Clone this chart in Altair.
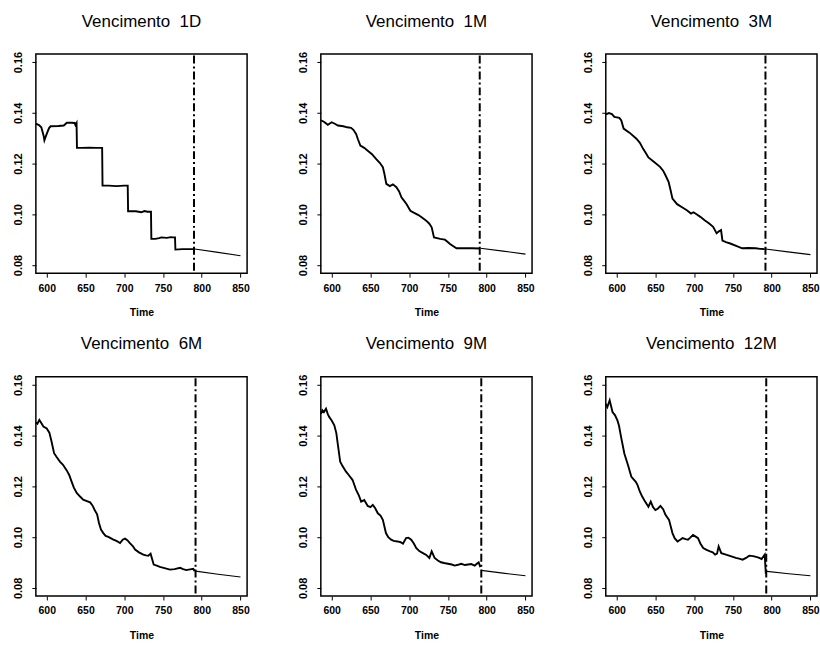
import altair as alt
import pandas as pd

# ---------------- data ----------------
maturities = ["1D", "1M", "3M", "6M", "9M", "12M"]

t_1d = [586, 590, 593, 596, 597, 600, 603, 605, 615, 622, 626, 632, 636, 637, 638.5, 639,
        645, 655, 665, 671.5, 672, 680, 690, 700, 704.5, 705, 715, 722, 726, 730, 734.5,
        735, 740, 745, 748, 755, 760, 763, 765.5, 766, 775, 785, 791]
v_1d = [0.1357, 0.1352, 0.1343, 0.1310, 0.1292, 0.1317, 0.1340, 0.1347, 0.1348, 0.1350,
        0.1361, 0.1361, 0.1360, 0.1352, 0.1360, 0.1262, 0.1262, 0.1263, 0.1262, 0.1262,
        0.1113, 0.1113, 0.1111, 0.1113, 0.1113, 0.1012, 0.1012, 0.1008, 0.1013, 0.1010,
        0.1010, 0.0903, 0.0903, 0.0906, 0.0909, 0.0907, 0.0910, 0.0909, 0.0909, 0.0861,
        0.0863, 0.0863, 0.0863]

t_1m = [586, 590, 595, 600, 604, 608, 615, 620, 625, 628, 631.5, 634, 637, 642, 646.5,
        652, 657.5, 662, 666, 668, 670.5, 675, 679, 683.5, 687, 690, 693, 696.5, 701.5,
        707, 712, 716, 722, 726, 729, 732, 736, 740, 746, 749, 752.7, 757, 761, 770,
        781, 791]
v_1m = [0.1370, 0.1365, 0.1353, 0.1363, 0.1357, 0.1350, 0.1347, 0.1343, 0.1341, 0.1333,
        0.1317, 0.1295, 0.1271, 0.1262, 0.1251, 0.1237, 0.1218, 0.1203, 0.1186, 0.1160,
        0.1120, 0.1111, 0.1118, 0.1107, 0.1090, 0.1067, 0.1055, 0.1041, 0.1014, 0.1005,
        0.0997, 0.0988, 0.0975, 0.0963, 0.0949, 0.0909, 0.0906, 0.0903, 0.0900, 0.0893,
        0.0883, 0.0874, 0.0866, 0.0866, 0.0866, 0.0865]

t_3m = [586, 590, 594, 597, 603.5, 606, 609, 617, 625.5, 630, 634, 638, 641, 648, 656,
        660, 663, 667, 670, 672, 678, 687, 691, 696, 699, 702.6, 708, 713.5, 719, 724.5,
        729, 731.5, 734.7, 736.5, 741, 746.6, 755, 762, 770, 779.6, 785, 791]
v_3m = [0.1394, 0.1399, 0.1395, 0.1384, 0.1380, 0.1370, 0.1338, 0.1321, 0.1298, 0.1282,
        0.1259, 0.1240, 0.1224, 0.1207, 0.1187, 0.1172, 0.1154, 0.1128, 0.1090, 0.1062,
        0.1040, 0.1023, 0.1015, 0.1003, 0.1008, 0.1001, 0.0990, 0.0977, 0.0965, 0.0951,
        0.0925, 0.0932, 0.0938, 0.0896, 0.0890, 0.0885, 0.0875, 0.0866, 0.0867, 0.0866,
        0.0864, 0.0863]

t_6m = [586, 588, 590.5, 593, 595.7, 600, 603.4, 606, 609.5, 613, 617, 621, 625.8, 629,
        632, 635, 638.7, 643, 647, 651, 656, 659, 662, 665, 667.4, 670, 673, 676, 679.5,
        683, 686, 690, 694.6, 698, 701, 704, 707, 711, 714, 719, 724.6, 728, 731, 734,
        738, 742, 746, 752, 759, 765, 772, 776, 780, 785, 789, 791]
v_6m = [0.1452, 0.1447, 0.1462, 0.1450, 0.1436, 0.1428, 0.1412, 0.1380, 0.1331, 0.1315,
        0.1298, 0.1285, 0.1263, 0.1245, 0.1220, 0.1195, 0.1174, 0.1160, 0.1148, 0.1143,
        0.1137, 0.1125, 0.1106, 0.1090, 0.1056, 0.1030, 0.1016, 0.1005, 0.1001, 0.0995,
        0.0990, 0.0985, 0.0977, 0.0990, 0.0994, 0.0988, 0.0977, 0.0965, 0.0951, 0.0940,
        0.0931, 0.0928, 0.0927, 0.0935, 0.0892, 0.0888, 0.0883, 0.0878, 0.0872, 0.0874,
        0.0879, 0.0874, 0.0870, 0.0873, 0.0875, 0.0866]

t_9m = [586, 588, 590, 592.7, 595, 597, 600, 603.4, 606, 607.8, 611, 614, 618.5, 622,
        627, 631.5, 635, 638, 642, 646.5, 650, 653, 656, 659.5, 663, 666, 670, 673,
        676.7, 680, 685, 689, 692, 696, 699, 702.6, 706, 709, 713, 717.7, 722, 726, 729,
        732.8, 737, 741, 745, 750, 755, 758.6, 763, 767, 772, 776, 780, 784.5, 789.6,
        791.8]
v_9m = [0.1486, 0.1500, 0.1493, 0.1506, 0.1485, 0.1473, 0.1460, 0.1441, 0.1410, 0.1369,
        0.1297, 0.1280, 0.1258, 0.1245, 0.1225, 0.1186, 0.1165, 0.1140, 0.1146, 0.1123,
        0.1118, 0.1127, 0.1115, 0.1094, 0.1085, 0.1068, 0.1016, 0.1000, 0.0990, 0.0985,
        0.0983, 0.0980, 0.0974, 0.0996, 0.0998, 0.0990, 0.0975, 0.0957, 0.0945, 0.0937,
        0.0930, 0.0918, 0.0944, 0.0918, 0.0908, 0.0901, 0.0898, 0.0895, 0.0892, 0.0888,
        0.0891, 0.0895, 0.0890, 0.0892, 0.0894, 0.0888, 0.0901, 0.0882]

t_12m = [586, 588, 591, 594.7, 598, 601, 603, 605.7, 610, 614.6, 619, 624.7, 627, 630,
         633, 636.7, 641, 644, 647, 650, 653, 656.5, 660, 663, 667.6, 670, 672, 675,
         678.6, 682, 685, 689, 692, 695, 698.5, 702, 705, 708, 711.7, 716, 720.6, 724,
         727, 729.5, 731.6, 735, 740, 745, 750, 753.7, 758, 762.5, 767, 771, 776, 780,
         784, 787, 791, 792.5]
v_12m = [0.1525, 0.1513, 0.1539, 0.1493, 0.1480, 0.1460, 0.1440, 0.1395, 0.1329, 0.1284,
         0.1238, 0.1218, 0.1205, 0.1179, 0.1160, 0.1140, 0.1120, 0.1140, 0.1118, 0.1107,
         0.1112, 0.1123, 0.1110, 0.1088, 0.1068, 0.1040, 0.1016, 0.0995, 0.0983, 0.0990,
         0.0996, 0.0992, 0.0990, 0.0998, 0.1009, 0.1002, 0.0996, 0.0975, 0.0957, 0.0950,
         0.0944, 0.0940, 0.0931, 0.0935, 0.0963, 0.0937, 0.0932, 0.0927, 0.0922, 0.0918,
         0.0915, 0.0911, 0.0918, 0.0927, 0.0925, 0.0922, 0.0918, 0.0914, 0.0931, 0.0855]

series_t = [t_1d, t_1m, t_3m, t_6m, t_9m, t_12m]
series_v = [v_1d, v_1m, v_3m, v_6m, v_9m, v_12m]

# forecast segments (start, middle, end)
fc_t = [[791, 821, 850], [792, 821, 850], [792, 821, 850],
        [792, 821, 850], [793, 821, 850], [794, 822, 850]]
fc_v = [[0.0863, 0.0850, 0.0837], [0.0866, 0.0855, 0.0843], [0.0863, 0.0852, 0.0841],
        [0.0866, 0.0854, 0.0843], [0.0869, 0.0858, 0.0848], [0.0865, 0.0856, 0.0848]]

# vertical dash-dot marker of the forecast origin
vline_t = [790, 791, 792, 792, 793, 793]
vline_range = [0.1626, 0.0774]

x_ticks = [600, 650, 700, 750, 800, 850]
y_ticks = [0.08, 0.10, 0.12, 0.14, 0.16]
x_domain = [586, 858.5]
y_domain = [0.0768, 0.1632]

FONT = "Liberation Sans"

x_scale = alt.Scale(domain=x_domain, nice=False, zero=False)
y_scale = alt.Scale(domain=y_domain, nice=False, zero=False)

x_axis = alt.Axis(values=x_ticks, title="Time", domain=False, grid=False, tickSize=4,
                  tickColor="black", tickWidth=1, labelFontSize=10.5, labelFontWeight="bold",
                  labelFont=FONT, labelColor="black", labelPadding=6, titleFont=FONT,
                  titleFontSize=10.5, titleFontWeight="bold", titleColor="black",
                  titlePadding=14, labelFlush=False)
y_axis = alt.Axis(values=y_ticks, format=".2f", title=None, domain=False, grid=False,
                  tickSize=4, tickColor="black", tickWidth=1, labelFontSize=11,
                  labelFontWeight="bold", labelFont=FONT, labelColor="black",
                  labelAngle=270, labelAlign="center", labelBaseline="bottom",
                  labelPadding=8, labelFlush=False)

panels = []
for i, m in enumerate(maturities):
    main_df = pd.DataFrame({"t": series_t[i], "v": series_v[i]})
    fc_df = pd.DataFrame({"t": fc_t[i], "v": fc_v[i]})
    vl_df = pd.DataFrame({"t": [vline_t[i]], "y1": [vline_range[0]], "y2": [vline_range[1]]})

    main = alt.Chart(main_df).mark_line(color="black", strokeWidth=1.9).encode(
        x=alt.X("t:Q", scale=x_scale, axis=x_axis),
        y=alt.Y("v:Q", scale=y_scale, axis=y_axis),
    )
    fc = alt.Chart(fc_df).mark_line(color="black", strokeWidth=1.1).encode(
        x=alt.X("t:Q", scale=x_scale),
        y=alt.Y("v:Q", scale=y_scale),
    )
    vl = alt.Chart(vl_df).mark_rule(color="black", strokeWidth=2,
                                     strokeDash=[8, 3, 2, 3]).encode(
        x=alt.X("t:Q", scale=x_scale),
        y=alt.Y("y1:Q", scale=y_scale),
        y2="y2:Q",
    )
    panel = alt.layer(main, fc, vl).properties(
        width=212, height=220,
        title=alt.TitleParams(text=f"Vencimento\u00a0 {m}", font=FONT, fontSize=17,
                              fontWeight="normal", color="black", anchor="middle",
                              offset=21),
    )
    panels.append(panel)

chart = alt.concat(*panels, columns=3,
                   spacing=alt.RowColnumber(row=104, column=74),
                   bounds="flush").properties(
    padding={"left": 12, "top": 10, "right": 0, "bottom": 0},
    background="white",
).configure_view(stroke="black", strokeWidth=1.5).configure_axis(
    labelFont=FONT, titleFont=FONT
)

chart.save("out.html", embed_options={"renderer": "svg", "actions": False})
